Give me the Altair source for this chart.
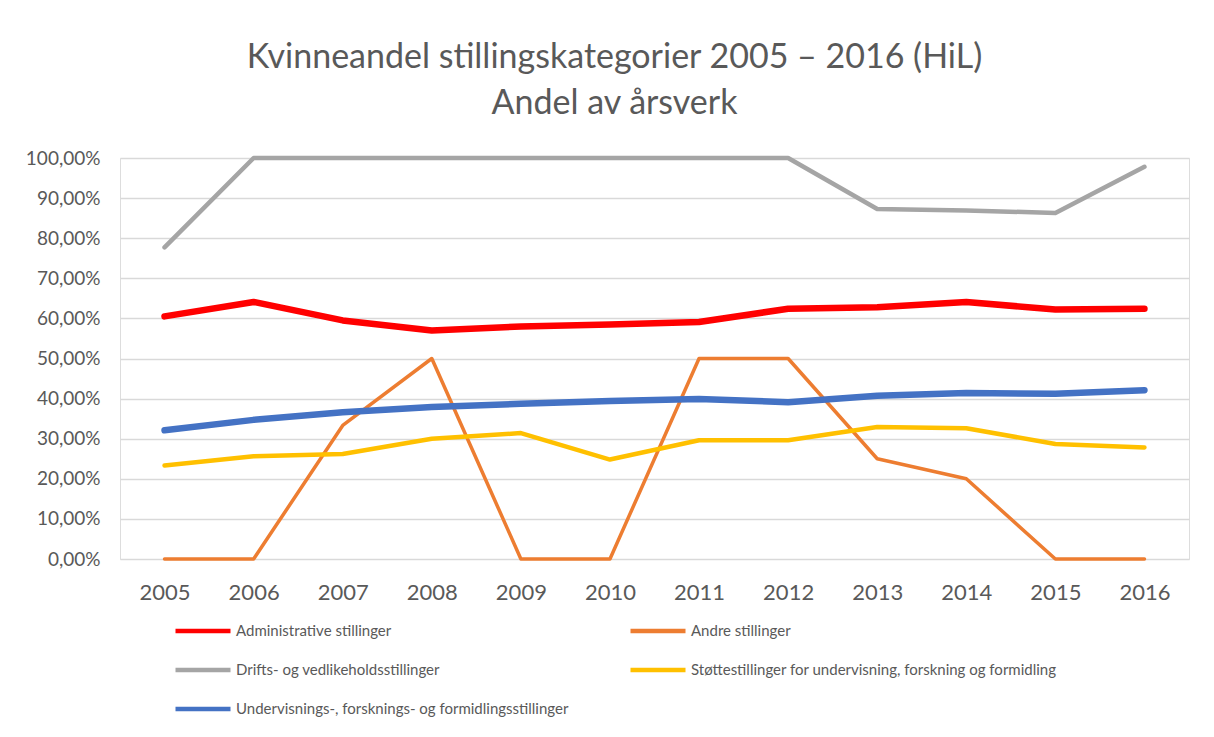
import altair as alt
import pandas as pd

years = [2005, 2006, 2007, 2008, 2009, 2010, 2011, 2012, 2013, 2014, 2015, 2016]

series_names = [
    "Administrative stillinger",
    "Andre stillinger",
    "Drifts- og vedlikeholdsstillinger",
    "Støttestillinger for undervisning, forskning og formidling",
    "Undervisnings-, forsknings- og formidlingsstillinger",
]

administrative = [60.5, 64.1, 59.5, 57.0, 58.0, 58.5, 59.1, 62.4, 62.8, 64.1, 62.2, 62.4]
andre = [0.0, 0.0, 33.3, 50.0, 0.0, 0.0, 50.0, 50.0, 25.0, 20.0, 0.0, 0.0]
drifts = [77.7, 100.0, 100.0, 100.0, 100.0, 100.0, 100.0, 100.0, 87.3, 86.9, 86.3, 97.8]
stotte = [23.3, 25.6, 26.2, 30.0, 31.4, 24.8, 29.6, 29.6, 32.9, 32.6, 28.7, 27.8]
undervisning = [32.1, 34.7, 36.6, 37.9, 38.7, 39.4, 39.9, 39.1, 40.7, 41.4, 41.2, 42.1]

colors = ["#FF0000", "#ED7D31", "#A5A5A5", "#FFC000", "#4472C4"]
widths = [6.5, 3.5, 4.5, 4.5, 6.5]

all_values = [administrative, andre, drifts, stotte, undervisning]
rows = []
for name, w, vals in zip(series_names, widths, all_values):
    for y, v in zip(years, vals):
        rows.append({"year": str(y), "series": name, "value": v / 100.0, "w": w})
df = pd.DataFrame(rows)

FONT = "Lato"
GREY_TEXT = "#595959"

chart = (
    alt.Chart(df)
    .mark_line(strokeCap="round", strokeJoin="round")
    .encode(
        x=alt.X(
            "year:O",
            title=None,
            axis=alt.Axis(
                labelAngle=0,
                labelFontSize=22,
                labelColor=GREY_TEXT,
                labelFont=FONT,
                labelPadding=23,
                ticks=False,
                domain=False,
                grid=False,
            ),
        ),
        y=alt.Y(
            "value:Q",
            title=None,
            scale=alt.Scale(domain=[0, 1], nice=False, zero=True),
            axis=alt.Axis(
                values=[i / 10 for i in range(11)],
                labelExpr="replace(format(datum.value, '.2%'), '.', ',')",
                labelFontSize=19,
                labelColor=GREY_TEXT,
                labelFont=FONT,
                labelPadding=20,
                ticks=False,
                domain=False,
                grid=True,
                gridColor="#D9D9D9",
                gridWidth=1.5,
            ),
        ),
        color=alt.Color(
            "series:N",
            scale=alt.Scale(domain=series_names, range=colors),
            legend=alt.Legend(
                title=None,
                orient="none",
                direction="horizontal",
                legendX=53,
                legendY=443,
                columns=2,
                columnPadding=52,
                rowPadding=-18,
                symbolType="stroke",
                symbolSize=3025,
                symbolStrokeWidth=4.5,
                labelFontSize=15,
                labelFont=FONT,
                labelColor=GREY_TEXT,
                labelOffset=3,
                labelLimit=600,
                padding=0,
            ),
        ),
        strokeWidth=alt.StrokeWidth("w:Q", scale=None),
    )
    .properties(
        width=1069,
        height=401,
        autosize=alt.AutoSizeParams(type="none"),
        padding={"left": 112, "top": 150, "right": 17, "bottom": 170},
        title=alt.Title(
            text=["Kvinneandel stillingskategorier 2005 – 2016 (HiL)", "Andel av årsverk"],
            font=FONT,
            fontSize=34,
            fontWeight="normal",
            color=GREY_TEXT,
            anchor="middle",
            dx=-40,
            offset=28,
            lineHeight=46,
        ),
    )
    .configure_view(stroke=None)
    .configure(background="white")
)

chart.save("out.html", embed_options={"renderer": "svg", "actions": False})
